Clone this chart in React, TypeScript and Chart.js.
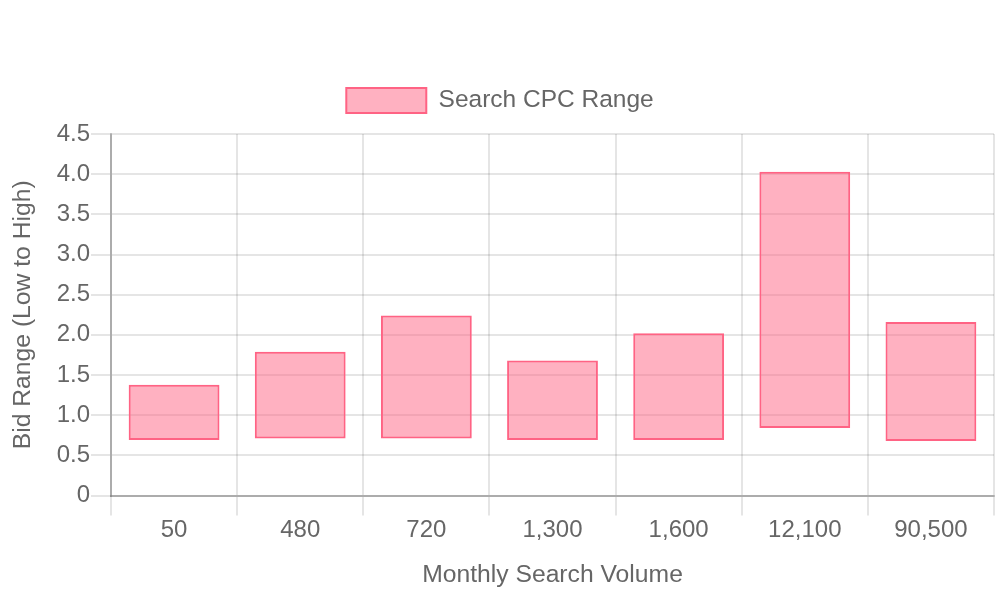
import React, { useEffect, useRef } from "react";
import { Chart, registerables } from "chart.js";

Chart.register(...registerables);

const categories = ["50", "480", "720", "1,300", "1,600", "12,100", "90,500"];
const lowBids = [0.69, 0.71, 0.71, 0.69, 0.69, 0.84, 0.68];
const highBids = [1.38, 1.79, 2.24, 1.68, 2.02, 4.03, 2.16];
const seriesLabel = "Search CPC Range";
const xTitle = "Monthly Search Volume";
const yTitle = "Bid Range (Low to High)";

const legendSpacing = {
  id: "legendSpacing",
  beforeInit(chart: any) {
    const legend = chart.legend;
    if (!legend) return;
    const origFit = legend.fit;
    legend.fit = function fit() {
      origFit.call(this);
      this.height += 11;
    };
  },
  afterLayout(chart: any) {
    const legend = chart.legend;
    if (!legend) return;
    legend.right += 6;
    legend.width += 6;
  },
};

export default function App() {
  const ref = useRef<HTMLCanvasElement | null>(null);

  useEffect(() => {
    if (!ref.current) return;
    const family = "'Liberation Sans', Arial, sans-serif";
    const tickFont = { family, size: 24 };
    const titleFont = { family, size: 24.7 };
    const legendFont = { family, size: 24.5 };
    const textColor = "#666";
    const chart = new Chart(ref.current, {
      type: "bar",
      data: {
        labels: categories,
        datasets: [
          {
            label: seriesLabel,
            data: categories.map((_, i) => [lowBids[i], highBids[i]]),
            backgroundColor: "rgba(255, 99, 132, 0.5)",
            borderColor: "rgb(255, 99, 132)",
            borderWidth: 2,
            borderSkipped: false,
            barPercentage: 0.9,
            categoryPercentage: 0.8,
          },
        ],
      },
      options: {
        responsive: false,
        animation: false,
        layout: { padding: { top: 68, right: 6, bottom: 0, left: 0 } },
        plugins: {
          legend: {
            display: true,
            position: "top",
            labels: {
              boxWidth: 80,
              boxHeight: 25,
              padding: 20,
              font: legendFont,
              color: textColor,
            },
          },
          tooltip: { enabled: false },
        },
        scales: {
          x: {
            grid: {
              color: "rgba(0,0,0,0.1)",
              lineWidth: 2,
              tickLength: 20,
              offset: true,
            },
            border: { color: "rgba(0,0,0,0.25)", width: 2 },
            ticks: { font: tickFont, color: textColor, padding: 0 },
            title: {
              display: true,
              text: xTitle,
              font: titleFont,
              color: textColor,
              padding: { top: 16, bottom: 10 },
            },
          },
          y: {
            min: 0,
            max: 4.5,
            grid: {
              color: "rgba(0,0,0,0.1)",
              lineWidth: 2,
              tickLength: 20,
            },
            border: { color: "rgba(0,0,0,0.25)", width: 2 },
            ticks: { stepSize: 0.5, font: tickFont, color: textColor, padding: 1 },
            title: {
              display: true,
              text: yTitle,
              font: titleFont,
              color: textColor,
              padding: { top: 8, bottom: 18 },
            },
          },
        },
      },
      plugins: [legendSpacing],
    });
    return () => chart.destroy();
  }, []);

  return (
    <div style={{ position: "absolute", left: 0, top: 0, width: 1000, height: 600, background: "#fff" }}>
      <canvas ref={ref} width={1000} height={600} style={{ display: "block" }} />
    </div>
  );
}
